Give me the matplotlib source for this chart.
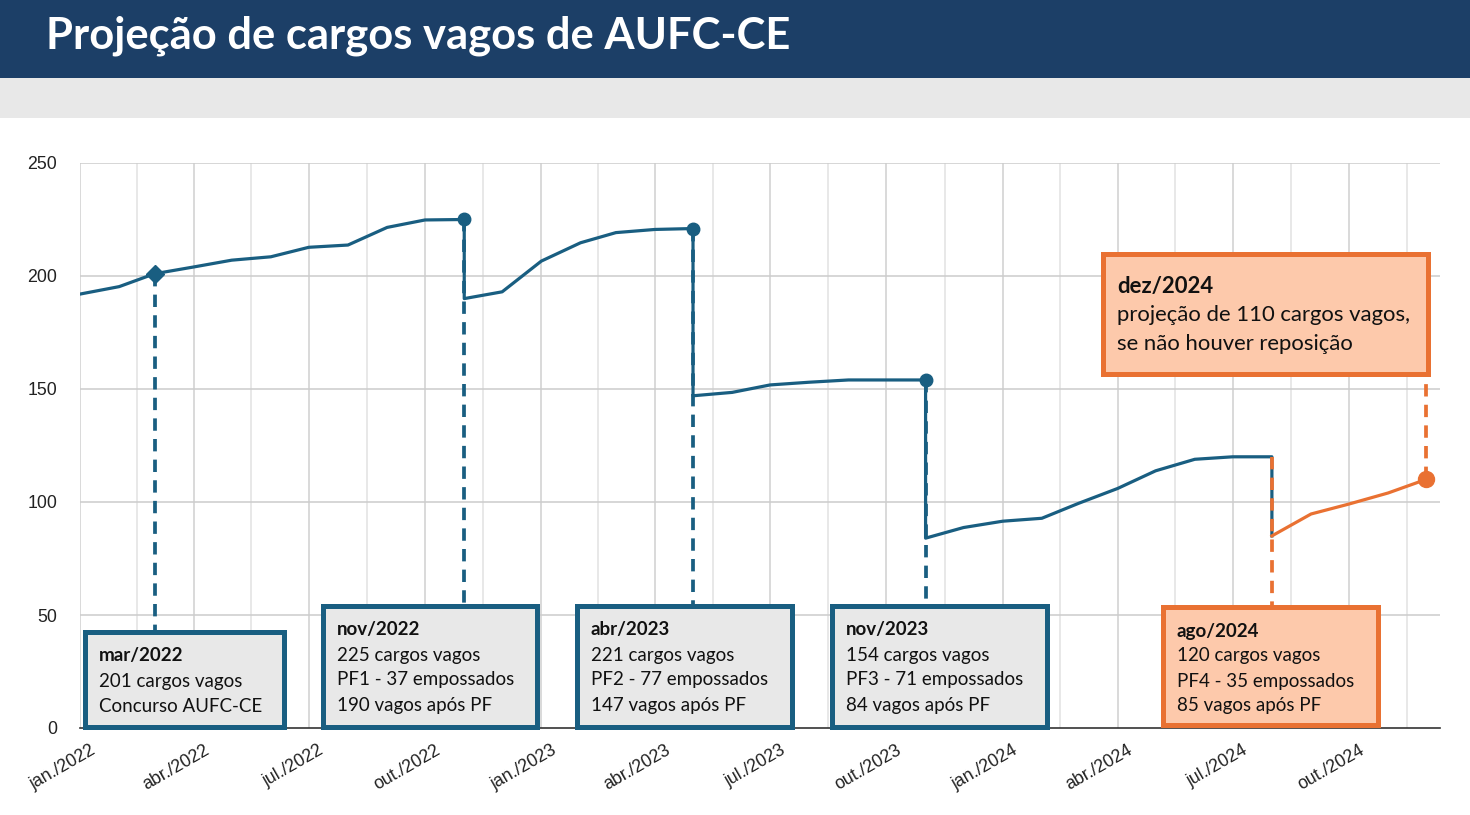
import numpy as np
import matplotlib
matplotlib.use('Agg')
import matplotlib.pyplot as plt
import matplotlib.dates as mdates
import matplotlib.transforms as mtransforms
from matplotlib.patches import Rectangle

# series (first of each month; drops appear as repeated dates)
blue_dates = ['2022-01-01', '2022-02-01', '2022-03-01', '2022-04-01', '2022-05-01',
              '2022-06-01', '2022-07-01', '2022-08-01', '2022-09-01', '2022-10-01',
              '2022-11-01', '2022-11-01', '2022-12-01', '2023-01-01', '2023-02-01',
              '2023-03-01', '2023-04-01', '2023-05-01', '2023-05-01', '2023-06-01',
              '2023-07-01', '2023-08-01', '2023-09-01', '2023-10-01', '2023-11-01',
              '2023-11-01', '2023-12-01', '2024-01-01', '2024-02-01', '2024-03-01',
              '2024-04-01', '2024-05-01', '2024-06-01', '2024-07-01', '2024-08-01',
              '2024-08-01']
blue_values = [192, 195.3, 201, 204, 207, 208.5, 212.7, 213.7, 221.5, 224.8,
               225, 190, 193, 206.6, 214.7, 219.2, 220.6, 221, 147, 148.5,
               151.8, 153, 154, 154, 154, 84, 88.7, 91.5, 92.8, 99.4,
               106, 113.8, 118.9, 120, 120, 85]

orange_dates = ['2024-08-01', '2024-09-01', '2024-10-01', '2024-11-01', '2024-12-01']
orange_values = [85, 94.7, 99.1, 104, 110]

event_dates = ['2022-03-01', '2022-11-01', '2023-05-01', '2023-11-01', '2024-08-01', '2024-12-01']
event_values = [201, 225, 221, 154, 120, 110]

box_titles = ['mar/2022', 'nov/2022', 'abr/2023', 'nov/2023', 'ago/2024', 'dez/2024']
box_lines = [
    ['201 cargos vagos', 'Concurso AUFC-CE'],
    ['225 cargos vagos', 'PF1 - 37 empossados', '190 vagos após PF'],
    ['221 cargos vagos', 'PF2 - 77 empossados', '147 vagos após PF'],
    ['154 cargos vagos', 'PF3 - 71 empossados', '84 vagos após PF'],
    ['120 cargos vagos', 'PF4 - 35 empossados', '85 vagos após PF'],
    ['projeção de 110 cargos vagos,', 'se não houver reposição'],
]

tick_dates = ['2022-01-01', '2022-04-01', '2022-07-01', '2022-10-01', '2023-01-01',
              '2023-04-01', '2023-07-01', '2023-10-01', '2024-01-01', '2024-04-01',
              '2024-07-01', '2024-10-01']
tick_labels = ['jan./2022', 'abr./2022', 'jul./2022', 'out./2022', 'jan./2023',
               'abr./2023', 'jul./2023', 'out./2023', 'jan./2024', 'abr./2024',
               'jul./2024', 'out./2024']
y_ticks = [0, 50, 100, 150, 200, 250]

BLUE = '#195e81'
ORANGE = '#e97132'
PEACH = '#fdc9ab'
GREY = '#e8e8e8'
NAVY = '#1c3f67'

W, H = 1470, 815
fig = plt.figure(figsize=(W / 100, H / 100), dpi=100)
fig.patch.set_facecolor('white')

# pixel transform, y measured from the top
pix = mtransforms.Affine2D().scale(1 / W, -1 / H).translate(0, 1) + fig.transFigure

# header banner and grey strip
fig.patches.append(Rectangle((0, 0), W, 78, transform=pix, facecolor=NAVY, edgecolor='none'))
fig.patches.append(Rectangle((0, 78), W, 40, transform=pix, facecolor=GREY, edgecolor='none'))
fig.text(46, 36, 'Projeção de cargos vagos de AUFC-CE', transform=pix, color='white',
         fontsize=31.3, fontweight='bold', family='Lato', va='center', ha='left')

ax = fig.add_axes([80 / W, 1 - 728 / H, 1360 / W, 565 / H])
d = lambda lst: mdates.date2num(np.array(lst, dtype='datetime64[D]'))

ax.set_xlim(d(['2022-01-01'])[0], d(['2024-12-12'])[0])
ax.set_ylim(0, 250)

# grid: quarter lines plus mid-quarter lines
qx = d(tick_dates)
mid = (qx + np.append(qx[1:], d(['2025-01-01'])[0])) / 2
for x in qx:
    ax.axvline(x, color='#d0d0d0', lw=1.1, zorder=0)
for x in mid:
    ax.axvline(x, color='#e2e2e2', lw=1.1, zorder=0)
for y in y_ticks[1:]:
    ax.axhline(y, color='#cccccc', lw=1.1, zorder=0)

for s in ['top', 'right', 'left']:
    ax.spines[s].set_visible(False)
ax.spines['bottom'].set_color('#333333')
ax.spines['bottom'].set_linewidth(1.2)

ax.set_yticks(y_ticks)
ax.set_yticklabels([str(v) for v in y_ticks], family='Liberation Sans', fontsize=12.8,
                   color='#222222')
ax.tick_params(axis='y', length=0, pad=16.5)
ax.set_xticks([])
for x, lbl in zip(qx, tick_labels):
    ax.annotate(lbl, xy=(x, 0), xycoords=('data', 'axes fraction'), xytext=(7, -10),
                textcoords='offset points', rotation=30, rotation_mode='anchor',
                ha='right', va='top', fontsize=12.8, family='Liberation Sans', color='#222222')

# main lines
ax.plot(d(blue_dates), blue_values, color=BLUE, lw=2.3, solid_joinstyle='round', zorder=3)
ax.plot(d(orange_dates), orange_values, color=ORANGE, lw=2.3, solid_joinstyle='round', zorder=3)

# boxes (pixel rectangles: left, top, right, bottom)
box_rects = [(85, 632, 284, 727), (323, 606, 537, 727), (577, 606, 792, 727),
             (832, 606, 1047, 727), (1163, 607, 1378, 725), (1103, 254, 1428, 374)]
ev = d(event_dates)
inv = ax.transData.inverted()
for i, (l, t, r, b) in enumerate(box_rects):
    orange = i >= 4
    ec = ORANGE if orange else BLUE
    fc = PEACH if orange else GREY
    fig.patches.append(Rectangle((l, t), r - l, b - t, transform=pix, facecolor=fc,
                                 edgecolor=ec, lw=3.6, zorder=5))
    big = i == 5
    fs = 15.9 if big else 13.5
    step = 29 if big else 25
    ty = t + (32 if big else 24)
    fig.text(l + 14, ty, box_titles[i], transform=pix, fontsize=fs, fontweight='bold',
             family='Lato', va='center', color='#111111', zorder=6)
    for k, line in enumerate(box_lines[i]):
        fig.text(l + 14, ty + step * (k + 1), line, transform=pix, fontsize=fs,
                 family='Lato', va='center', color='#111111', zorder=6)
    # dashed connector from the point to the box edge
    edge_y = t if i != 5 else b
    y_edge = inv.transform(pix.transform((0, edge_y)))[1]
    ax.plot([ev[i], ev[i]], [event_values[i], y_edge], color=ec, lw=2.7,
            linestyle=(0, (3.3, 2.2)), zorder=4, clip_on=False)

# markers
ax.plot(ev[0], event_values[0], marker='D', ms=9.5, color=BLUE, zorder=6)
ax.plot(ev[1:4], event_values[1:4], 'o', ms=9, color=BLUE, zorder=6)
ax.plot(ev[5], event_values[5], 'o', ms=11.5, color=ORANGE, zorder=6)

fig.savefig('out.png', dpi=100)
